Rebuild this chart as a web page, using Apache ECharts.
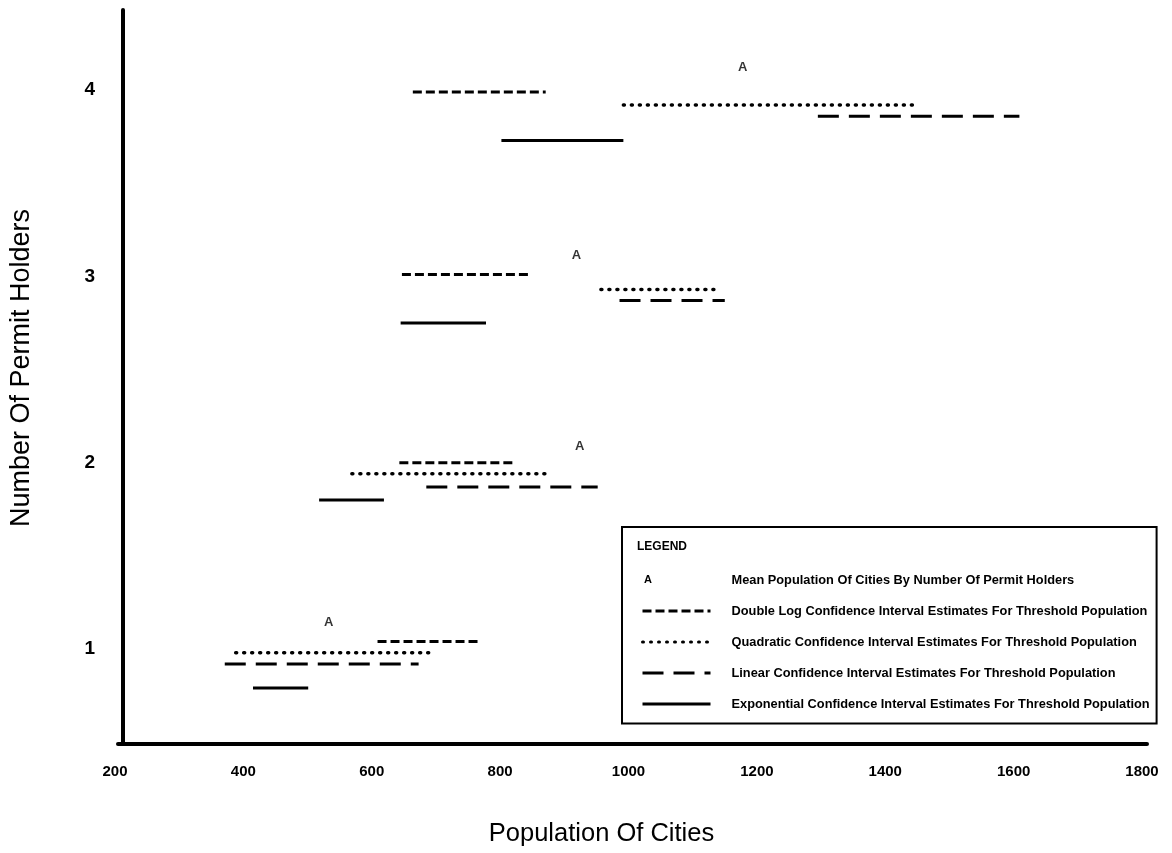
<!DOCTYPE html>
<html>
<head>
<meta charset="utf-8">
<script src="https://cdn.jsdelivr.net/npm/echarts@6/dist/echarts.min.js"></script>
<style>
html,body{margin:0;padding:0;background:#fff;}
#chart{width:1172px;height:853px;}
</style>
</head>
<body>
<div id="chart"></div>
<script>
// ---- data ----
const xTicks = [200, 400, 600, 800, 1000, 1200, 1400, 1600, 1800];
const yTicks = [1, 2, 3, 4];

const meanName = 'Mean Population Of Cities By Number Of Permit Holders';
const doubleLogName = 'Double Log Confidence Interval Estimates For Threshold Population';
const quadraticName = 'Quadratic Confidence Interval Estimates For Threshold Population';
const linearName = 'Linear Confidence Interval Estimates For Threshold Population';
const exponentialName = 'Exponential Confidence Interval Estimates For Threshold Population';

const meanX = [533, 924, 919, 1178];
const meanY = [1.14, 2.09, 3.11, 4.12];

const doubleLogIntervals = [[609, 769], [643, 825], [647, 847], [664, 871]];
const doubleLogLevels = [1.04, 2.00, 3.01, 3.99];

const quadraticIntervals = [[388, 691], [569, 874], [957, 1133], [992, 1448]];
const quadraticLevels = [0.98, 1.94, 2.93, 3.92];

const linearIntervals = [[371, 673], [685, 952], [986, 1150], [1295, 1609]];
const linearLevels = [0.92, 1.87, 2.87, 3.86];

const exponentialIntervals = [[415, 501], [518, 619], [645, 778], [802, 992]];
const exponentialLevels = [0.79, 1.80, 2.75, 3.73];

// ---- build ----
const chart = echarts.init(document.getElementById('chart'), null, {renderer: 'canvas'});

function segments(name, intervals, levels, lineStyle) {
  return intervals.map((iv, i) => ({
    type: 'line',
    name: name,
    xAxisIndex: 0,
    yAxisIndex: 0,
    data: [[iv[0], levels[i]], [iv[1], levels[i]]],
    symbol: 'none',
    silent: true,
    animation: false,
    itemStyle: {color: '#000', opacity: 0},
    lineStyle: Object.assign({color: '#000'}, lineStyle)
  }));
}

const FONT = 'Liberation Sans';

const series = [].concat(
  [{
    type: 'scatter',
    name: meanName,
    xAxisIndex: 0,
    yAxisIndex: 0,
    data: meanX.map((x, i) => [x, meanY[i]]),
    symbolSize: 0,
    itemStyle: {color: '#000'},
    animation: false,
    silent: true,
    label: {
      show: true,
      position: 'inside',
      formatter: 'A',
      color: '#000',
      textBorderWidth: 0,
      fontFamily: FONT,
      fontWeight: 'bold',
      fontSize: 13
    }
  }],
  segments(doubleLogName, doubleLogIntervals, doubleLogLevels, {width: 3, type: [9, 4]}),
  segments(quadraticName, quadraticIntervals, quadraticLevels, {width: 3.5, type: [1, 7], cap: 'round'}),
  segments(linearName, linearIntervals, linearLevels, {width: 3, type: [21, 10]}),
  segments(exponentialName, exponentialIntervals, exponentialLevels, {width: 3, type: 'solid'})
);

const legLeft = 622, legTop = 527, legPadL = 19, legItemW = 68;

const option = {
  backgroundColor: '#fff',
  animation: false,
  title: {
    text: 'LEGEND',
    left: 637,
    top: 541,
    padding: 0,
    textStyle: {fontFamily: FONT, fontSize: 12, fontWeight: 'bold', color: '#000'}
  },
  legend: {
    orient: 'vertical',
    left: legLeft,
    top: legTop,
    padding: [46, 7, 13, legPadL],
    itemWidth: legItemW,
    itemHeight: 14,
    itemGap: 18,
    borderColor: '#000',
    borderWidth: 2,
    backgroundColor: '#fff',
    selectedMode: false,
    itemStyle: {opacity: 0},
    lineStyle: {width: 3},
    textStyle: {fontFamily: FONT, fontSize: 12.8, fontWeight: 'bold', color: '#000', padding: [0, 0, 0, 16]},
    data: [
      {name: meanName, icon: 'none'},
      {name: doubleLogName},
      {name: quadraticName},
      {name: linearName},
      {name: exponentialName}
    ]
  },
  graphic: [{
    type: 'text',
    z: 100,
    left: 644,
    top: 574,
    style: {text: 'A', fontFamily: FONT, fontSize: 11, fontWeight: 'bold', fill: '#000'}
  }],
  grid: [
    {left: 110, right: 30, top: 10, bottom: 109},
    {left: 118, right: 25, top: 10, bottom: 109}
  ],
  xAxis: [{
    type: 'value',
    gridIndex: 0,
    min: 200,
    max: 1800,
    interval: 200,
    name: 'Population Of Cities',
    nameLocation: 'middle',
    nameGap: 77,
    nameTextStyle: {fontFamily: FONT, fontSize: 25.5, color: '#000', padding: [0, 54, 0, 0]},
    axisLine: {show: false},
    axisTick: {show: false},
    splitLine: {show: false},
    axisLabel: {
      margin: 20,
      color: '#000',
      fontFamily: FONT,
      fontSize: 15,
      fontWeight: 'bold',
      customValues: xTicks,
      formatter: function (v) { return String(v); }
    }
  }, {
    type: 'value',
    gridIndex: 1,
    min: 0,
    max: 1,
    axisLine: {show: true, lineStyle: {color: '#000', width: 4}},
    axisTick: {show: false},
    axisLabel: {show: false},
    splitLine: {show: false}
  }],
  yAxis: [{
    type: 'value',
    gridIndex: 0,
    min: 0.49,
    max: 4.43,
    offset: -8,
    name: 'Number Of Permit Holders',
    nameLocation: 'middle',
    nameGap: 88,
    nameRotate: 90,
    nameTextStyle: {fontFamily: FONT, fontSize: 27, color: '#000', padding: [0, 0, 0, 18]},
    axisLine: {show: true, lineStyle: {color: '#000', width: 4}},
    axisTick: {show: false},
    splitLine: {show: false},
    axisLabel: {
      margin: 28,
      color: '#000',
      fontFamily: FONT,
      fontSize: 19,
      fontWeight: 'bold',
      customValues: yTicks
    }
  }, {
    type: 'value',
    gridIndex: 1,
    min: 0,
    max: 1,
    show: false
  }],
  series: series
};

chart.setOption(option);
</script>
</body>
</html>
